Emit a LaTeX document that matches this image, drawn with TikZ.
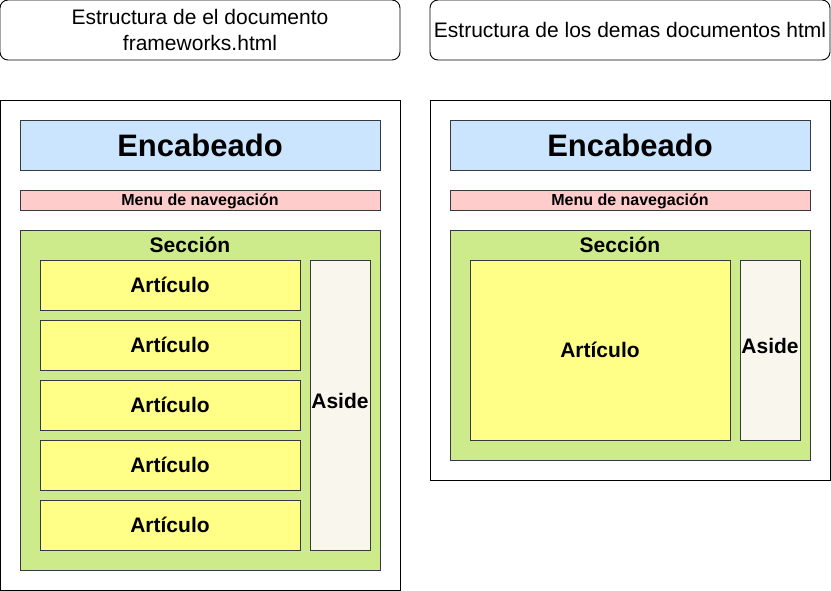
\documentclass[tikz,border=0pt]{standalone}
\usepackage{fontspec}
\setmainfont{Liberation Sans}
\usepackage{tikz}
\usetikzlibrary{positioning}

\definecolor{encblue}{HTML}{CCE5FF}
\definecolor{menupink}{HTML}{FFCCCC}
\definecolor{secgreen}{HTML}{CDEB8B}
\definecolor{artyellow}{HTML}{FFFF88}
\definecolor{asidegray}{HTML}{F9F7ED}
\definecolor{edgegray}{HTML}{36393D}

\tikzset{
  box/.style={draw=edgegray, line width=0.9pt, inner sep=0pt, outer sep=0pt},
  titlebox/.style={draw=black, line width=0.9pt, rounded corners=8pt, inner sep=0pt,
    minimum width=400pt, minimum height=60pt, align=center,
    font=\fontsize{21}{26}\selectfont},
  pagebox/.style={draw=black, line width=0.9pt, inner sep=0pt, minimum width=400pt},
  encbox/.style={box, fill=encblue, minimum width=360pt, minimum height=50pt,
    font=\fontsize{31}{36}\selectfont\bfseries},
  menubox/.style={box, fill=menupink, minimum width=360pt, minimum height=20pt,
    text height=11.5pt, text depth=0pt, font=\fontsize{16}{18}\selectfont\bfseries},
  secbox/.style={box, fill=secgreen, minimum width=360pt},
  artbox/.style={box, fill=artyellow, minimum width=260pt,
    font=\fontsize{21}{25}\selectfont\bfseries},
  asidebox/.style={box, fill=asidegray, minimum width=60pt,
    text height=15pt, text depth=8pt, font=\fontsize{21}{25}\selectfont\bfseries},
  seclabel/.style={font=\fontsize{21}{25}\selectfont\bfseries, inner sep=0pt}
}

\begin{document}
\begin{tikzpicture}[x=1pt, y=-1pt]
  \useasboundingbox (0,0) rectangle (831,591);

  % Titles
  \node[titlebox] (titleL) at (200,30) {Estructura de el documento\\frameworks.html};
  \node[titlebox] (titleR) at (630,30) {Estructura de los demas documentos html};

  % Page of frameworks.html
  \node[pagebox, minimum height=490pt] (pageL) at (200,345) {};
  \node[encbox] (encL) at (200,145) {Encabeado};
  \node[menubox] (menuL) at (200,200) {Menu de navegación};
  \node[secbox, minimum height=340pt] (secL) at (200,400) {};
  \node[seclabel] (secLabelL) at (190,245) {Sección};
  \foreach \i in {0,...,4}
    \node[artbox, minimum height=50pt] (artL\i) at (170,285+60*\i) {Artículo};
  \node[asidebox, minimum height=290pt] (asideL) at (340,405) {Aside};

  % Page of the other documents
  \node[pagebox, minimum height=380pt] (pageR) at (630,290) {};
  \node[encbox] (encR) at (630,145) {Encabeado};
  \node[menubox] (menuR) at (630,200) {Menu de navegación};
  \node[secbox, minimum height=230pt] (secR) at (630,345) {};
  \node[seclabel] (secLabelR) at (620,245) {Sección};
  \node[artbox, minimum height=180pt] (artR) at (600,350) {Artículo};
  \node[asidebox, minimum height=180pt] (asideR) at (770,350) {Aside};
\end{tikzpicture}
\end{document}
